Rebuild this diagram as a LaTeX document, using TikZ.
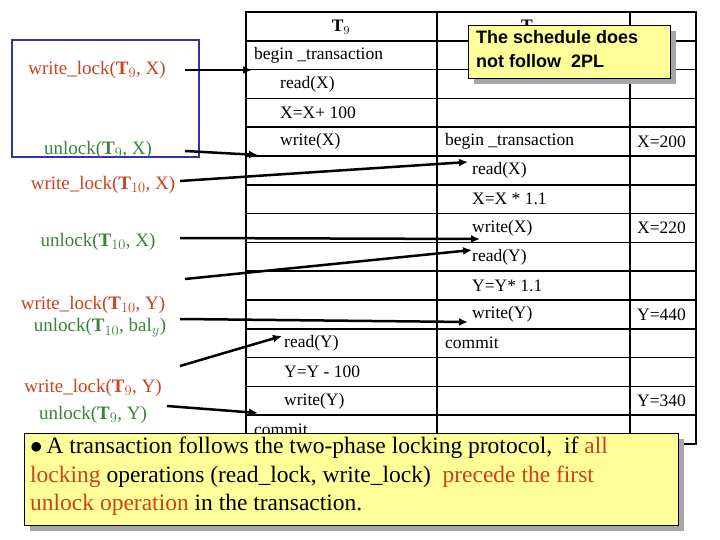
\documentclass[tikz,border=0pt]{standalone}
\usepackage{fontspec}
\usetikzlibrary{arrows.meta}
\setmainfont{Liberation Serif}
\newfontfamily\timesf{Liberation Serif}
\newfontfamily\arialf{Liberation Sans}
\begin{document}
\begin{tikzpicture}[x=1pt,y=-1pt,
  cell/.style={anchor=west,inner sep=0pt,font=\timesf\fontsize{17.5}{19}\selectfont},
  lk/.style={inner sep=0pt,font=\timesf\fontsize{19}{21}\selectfont,text=lockred},
  ul/.style={inner sep=0pt,font=\timesf\fontsize{19}{21}\selectfont,text=unlgreen},
  arr/.style={line width=2.5pt,-{Latex[length=9pt,width=8pt]}}]
\definecolor{lockred}{RGB}{205,65,30}
\definecolor{unlgreen}{RGB}{60,130,60}
\definecolor{noteyel}{RGB}{255,255,153}
\useasboundingbox (0,0) rectangle (720,540);
\fill[white] (0,0) rectangle (720,540);
% table
\draw[line width=1.5pt] (246,12) rectangle (696,444);
\foreach \i in {1,...,14}{\draw[line width=1.5pt] (246,{12+28.8*\i}) -- (696,{12+28.8*\i});}
\draw[line width=1.5pt] (437,12) -- (437,444);
\draw[line width=1.5pt] (630,12) -- (630,444);
\node[font=\timesf\fontsize{17.5}{19}\selectfont\bfseries] (h9) at (341,27) {T$_{9}$};
\node[font=\timesf\fontsize{17.5}{19}\selectfont\bfseries] (h10) at (533,27) {T$_{10}$};
\def\ry#1{12+28.8*#1+14.4}
\node[cell] (a1) at (254,{\ry{1}}) {begin \_transaction};
\node[cell] (a2) at (280,{\ry{2}}) {read(X)};
\node[cell] (a3) at (280,{\ry{3}}) {X=X+ 100};
\node[cell] (a4) at (280,{\ry{4}}) {write(X)};
\node[cell] (b4) at (445,{\ry{4}}) {begin \_transaction};
\node[cell] (c4) at (637,{\ry{4}}) {X=200};
\node[cell] (b5) at (472,{\ry{5}}) {read(X)};
\node[cell] (b6) at (472,{\ry{6}}) {X=X * 1.1};
\node[cell] (b7) at (472,{\ry{7}}) {write(X)};
\node[cell] (c7) at (637,{\ry{7}}) {X=220};
\node[cell] (b8) at (472,{\ry{8}}) {read(Y)};
\node[cell] (b9) at (472,{\ry{9}}) {Y=Y* 1.1};
\node[cell] (b10) at (472,{\ry{10}}) {write(Y)};
\node[cell] (c10) at (637,{\ry{10}}) {Y=440};
\node[cell] (a11) at (284,{\ry{11}}) {read(Y)};
\node[cell] (b11) at (445,{\ry{11}}) {commit};
\node[cell] (a12) at (284,{\ry{12}}) {Y=Y - 100};
\node[cell] (a13) at (284,{\ry{13}}) {write(Y)};
\node[cell] (c13) at (637,{\ry{13}}) {Y=340};
\node[cell] (a14) at (254,{\ry{14}}) {commit};
% blue box
\draw[line width=2.5pt,draw={rgb,255:red,50;green,50;blue,170}] (12,40) rectangle (199,157);
% labels
\node[lk] (l1) at (97,70) {write\_lock(\textbf{T$_{9}$}, X)};
\node[ul] (l2) at (98,150) {unlock(\textbf{T$_{9}$}, X)};
\node[lk] (l3) at (103,185) {write\_lock(\textbf{T$_{10}$}, X)};
\node[ul] (l4) at (98,242) {unlock(\textbf{T$_{10}$}, X)};
\node[lk] (l5) at (93,305) {write\_lock(\textbf{T$_{10}$}, Y)};
\node[ul] (l6) at (100,328) {unlock(\textbf{T$_{10}$}, bal$_{y}$)};
\node[lk] (l7) at (93,388) {write\_lock(\textbf{T$_{9}$}, Y)};
\node[ul] (l8) at (93,415) {unlock(\textbf{T$_{9}$}, Y)};
% arrow endpoints
\coordinate (s1) at (185,70); \coordinate (e1) at (252,70);
\coordinate (s2) at (185,151); \coordinate (e2) at (258,155);
\coordinate (s3) at (180,181); \coordinate (e3) at (468,162);
\coordinate (s4) at (180,238); \coordinate (e4) at (480,239);
\coordinate (s5) at (185,279); \coordinate (e5) at (472,250);
\coordinate (s6) at (180,319); \coordinate (e6) at (468,322);
\coordinate (s7) at (180,366); \coordinate (e7) at (282,336);
\coordinate (s8) at (167,406); \coordinate (e8) at (258,413);
\foreach \k in {1,...,8}{\draw[arr] (s\k) -- (e\k);}
% callout
\fill[gray!70] (474,31) rectangle (676,84);
\node[draw,fill=noteyel,line width=0.8pt,minimum width=202pt,minimum height=53pt,anchor=north west,inner sep=0pt] (call) at (468,25) {};
\node[anchor=north west,align=left,inner sep=0pt,font=\arialf\bfseries\fontsize{18}{24}\selectfont] (callt) at (476,30) {The schedule does\\not follow \ 2PL};
% bottom note
\fill[gray!70] (30,439) rectangle (684,531);
\node[draw,fill=noteyel,line width=0.8pt,minimum width=654pt,minimum height=92pt,anchor=north west,inner sep=0pt] (note) at (24,433) {};
\node[anchor=north west,align=left,inner sep=0pt,font=\timesf\fontsize{23.5}{28.5}\selectfont] (notet) at (30,437) {$\bullet$\,A transaction follows the two-phase locking protocol, \ if \textcolor{lockred}{all}\\\textcolor{lockred}{locking} operations (read\_lock, write\_lock) \ \textcolor{lockred}{precede the first}\\\textcolor{lockred}{unlock operation} in the transaction.};
\end{tikzpicture}
\end{document}
